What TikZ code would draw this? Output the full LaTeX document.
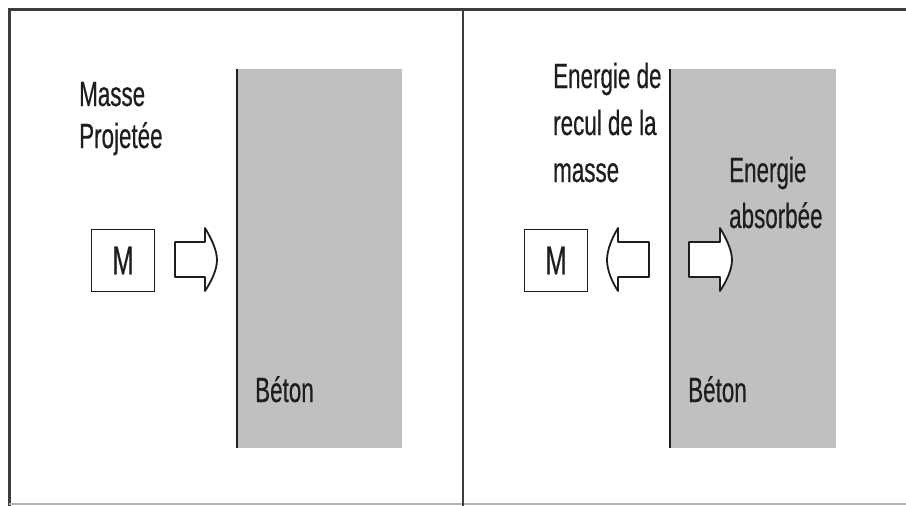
\documentclass[tikz,border=0pt]{standalone}
\usepackage{fontspec}
\setmainfont[FakeStretch=0.64,FakeBold=0.4]{Liberation Sans}
\definecolor{frame}{HTML}{3C3C3C}
\definecolor{beton}{HTML}{C0C0C0}
\definecolor{ink}{HTML}{1E1E1E}
\begin{document}
\begin{tikzpicture}[x=1pt,y=-1pt,
  lbl/.style={inner sep=0pt,anchor=base west,align=left,text=ink,
    font=\fontsize{35}{45}\selectfont},
  mbox/.style={draw=ink,line width=1.8pt,fill=white,inner sep=0pt,
    minimum width=63pt,minimum height=62pt,text=ink,font=\fontsize{40}{48}\selectfont},
  hollow/.style={draw=ink,line width=1.8pt,fill=white,line join=round},
  wall/.style={fill=beton,draw=none},
  wallface/.style={draw=ink,line width=1.8pt}]
\useasboundingbox (0,0) rectangle (906,506);
\fill[white] (0,0) rectangle (906,506);
% frame
\draw[frame,line width=3pt] (9,506) -- (9,9) -- (906,9);
\draw[gray!60,line width=1.5pt] (9,504) -- (906,504);
\draw[frame,line width=2pt] (463,9) -- (463,506);
% left panel
\fill[wall] (237,69) rectangle (402,448);
\coordinate (wl1) at (237,69);
\coordinate (wl2) at (237,448);
\draw[wallface] (wl1) -- (wl2);
\node[lbl,font=\fontsize{35}{42}\selectfont] (masse) at (79,148) {Masse\\Projetée};
\node[mbox] (m1) at (123,260.5) {M};
\node[lbl] (beton1) at (255,402) {Béton};
\draw[hollow] (175,242) -- (205,242) -- (205,228)
  .. controls (211,238) and (217,250) .. (217,260)
  .. controls (217,270) and (211,282) .. (205,291)
  -- (205,277) -- (175,277) -- cycle;
% right panel
\fill[wall] (670,69) rectangle (836,448);
\coordinate (wr1) at (670,69);
\coordinate (wr2) at (670,448);
\draw[wallface] (wr1) -- (wr2);
\node[lbl,font=\fontsize{35}{47}\selectfont] (recul) at (553,182) {Energie de\\recul de la\\masse};
\node[lbl,font=\fontsize{35}{46}\selectfont] (absorb) at (729,228) {Energie\\absorbée};
\node[mbox] (m2) at (556,260.5) {M};
\node[lbl] (beton2) at (688,402) {Béton};
\draw[hollow] (649,242) -- (618,242) -- (618,228)
  .. controls (612,238) and (607,250) .. (607,260)
  .. controls (607,270) and (612,282) .. (618,291)
  -- (618,277) -- (649,277) -- cycle;
\draw[hollow] (689,242) -- (720,242) -- (720,228)
  .. controls (726,238) and (732,250) .. (732,260)
  .. controls (732,270) and (726,282) .. (720,291)
  -- (720,277) -- (689,277) -- cycle;
\end{tikzpicture}
\end{document}
